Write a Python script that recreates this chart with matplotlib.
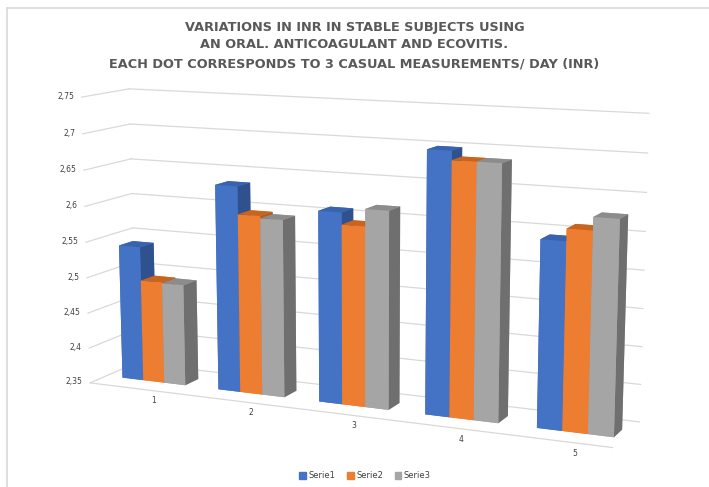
import matplotlib
matplotlib.use('Agg')
import matplotlib.pyplot as plt
import numpy as np
from matplotlib.patches import Rectangle
from matplotlib.lines import Line2D

# ---- data ----
categories = ['1', '2', '3', '4', '5']
series_names = ['Serie1', 'Serie2', 'Serie3']
serie1 = [2.54, 2.635, 2.61, 2.70, 2.595]
serie2 = [2.493, 2.597, 2.594, 2.688, 2.611]
serie3 = [2.492, 2.594, 2.617, 2.688, 2.628]
z_ticks = [2.35, 2.40, 2.45, 2.50, 2.55, 2.60, 2.65, 2.70, 2.75]
z_tick_labels = ['2,35', '2,4', '2,45', '2,5', '2,55', '2,6', '2,65', '2,7', '2,75']
title_lines = ['VARIATIONS IN INR IN STABLE SUBJECTS USING',
               'AN ORAL. ANTICOAGULANT AND ECOVITIS.',
               'EACH DOT CORRESPONDS TO 3 CASUAL MEASUREMENTS/ DAY (INR)']

colors = ['#4472C4', '#ED7D31', '#A5A5A5']
side_colors = ['#2F528F', '#AE5A21', '#6F6F6F']
top_colors = ['#3A63AD', '#C9641F', '#8C8C8C']

zmin, zmax = z_ticks[0], z_ticks[-1]

fig = plt.figure(figsize=(7.09, 4.87), dpi=100)
ax = fig.add_axes([-0.045, -0.03, 1.1, 0.98], projection='3d', computed_zorder=False)
ax.set_proj_type('persp', focal_length=0.7)
ax.view_init(elev=11, azim=-66)
ax.set_axis_off()

x0, x1 = -0.5, 4.6
y0, y1 = 0.0, 1.0
ax.set_xlim(x0, x1)
ax.set_ylim(y0, y1)
ax.set_zlim(zmin, zmax)
ax.set_box_aspect((5.1, 0.8, 2.6), zoom=1.37)

grid_col = '#D9D9D9'
grid_end = 4.4
for z in z_ticks:
    ax.plot([x0, x0], [y0, y1], [z, z], color=grid_col, lw=0.9, zorder=1, clip_on=False)
    ax.plot([x0, grid_end], [y1, y1], [z, z], color=grid_col, lw=0.9, zorder=1, clip_on=False)
ax.plot([x0, grid_end], [y0, y0], [zmin, zmin], color=grid_col, lw=0.9, zorder=1, clip_on=False)

# bars
bw = 0.22
depth = 0.3
ypos = 0.35
xs, zs_h, facecols = [], [], []
for i, vals in enumerate([serie1, serie2, serie3]):
    for k, v in enumerate(vals):
        xs.append(k + (i - 1) * bw - bw / 2)
        zs_h.append(v - zmin)
xs = np.array(xs)
zs_h = np.array(zs_h)
n_per = len(categories)
for i in range(3):
    for k in range(n_per):
        # face order: bottom, top, -y(front), +y(back), -x(left), +x(right)
        facecols += [colors[i], top_colors[i], colors[i], colors[i], colors[i], side_colors[i]]
bars = ax.bar3d(xs, np.full_like(xs, ypos), np.full_like(xs, zmin), bw, depth, zs_h,
                color=facecols, shade=False, zorder=2)
bars.set_clip_on(False)

for z, lab in zip(z_ticks, z_tick_labels):
    ax.text(x0 - 0.08, y0, z, lab, ha='right', va='center', fontsize=5.5, color='#404040', zorder=3)
for k, c in enumerate(categories):
    ax.text(k, ypos, zmin - 0.028, c, ha='center', va='center', fontsize=5.5, color='#404040', zorder=3)

for yy, line in zip([27, 45, 64], title_lines):
    fig.text(0.5, 1 - yy / 487, line, ha='center', va='center', fontsize=9.3,
             fontweight='bold', color='#595959', family='DejaVu Sans')

handles = [Rectangle((0, 0), 1, 1, color=c) for c in colors]
fig.legend(handles, series_names, loc='center', bbox_to_anchor=(0.515, 1 - 476 / 487), ncol=3,
           fontsize=6, frameon=False, handlelength=0.8, handleheight=0.8,
           handletextpad=0.3, columnspacing=1.4, labelcolor='#404040')

fig.add_artist(Line2D([7 / 709, 7 / 709], [0, 1 - 8 / 487], color='#D9D9D9', lw=1.2))
fig.add_artist(Line2D([7 / 709, 1], [1 - 8 / 487, 1 - 8 / 487], color='#D9D9D9', lw=1.2))

fig.savefig('out.png', dpi=100)
